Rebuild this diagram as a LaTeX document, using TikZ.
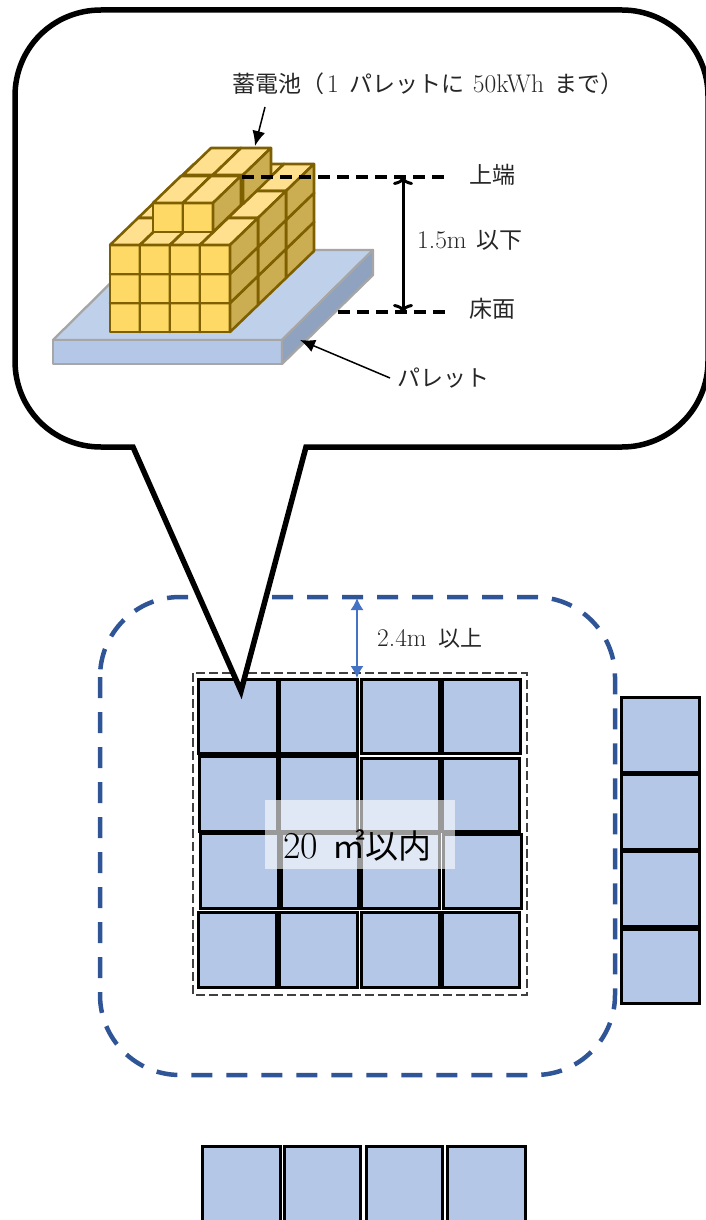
\documentclass[tikz,border=0pt]{standalone}
\usepackage{fontspec}
\usetikzlibrary{arrows.meta}
\newfontfamily\cjk{Noto Sans CJK JP}
\definecolor{tileblue}{HTML}{B4C7E7}
\definecolor{dashblue}{HTML}{2F5597}
\definecolor{arrowblue}{HTML}{4472C4}
\definecolor{boxfront}{HTML}{FFD966}
\definecolor{boxtop}{HTML}{FFE08F}
\definecolor{boxside}{HTML}{CCAE52}
\definecolor{boxline}{HTML}{7F6000}
\definecolor{paltop}{HTML}{BFD0EA}
\definecolor{palside}{HTML}{8FA2BF}
\definecolor{palline}{HTML}{A6A6A6}
\newcommand{\lat}[1]{{\fontsize{25.5}{26}\selectfont #1}}
\tikzset{
  tilebox/.style={fill=tileblue,draw=black,line width=3pt},
  cubeface/.style={draw=boxline,line width=2.6pt,line join=round},
  palface/.style={draw=palline,line width=2.3pt,line join=round},
  textlabel/.style={inner sep=0pt,text=black!85,font=\fontsize{23}{26}\selectfont\cjk},
  levelline/.style={draw=black,line width=3.2pt,dash pattern=on 12pt off 7pt},
  pointer/.style={-{Latex[length=15pt,width=13pt]},line width=1.5pt,black},
}
\newcommand{\tilerect}[4]{\draw[tilebox] (#1,#2) rectangle (#3,#4);}
\newcommand{\blockcube}[2]{%
  \fill[boxfront,cubeface] (#1,#2) rectangle ({#1+30},{#2+29});
  \fill[boxtop,cubeface] (#1,#2) -- ({#1+28},{#2-27}) -- ({#1+58},{#2-27}) -- ({#1+30},#2) -- cycle;
  \fill[boxside,cubeface] ({#1+30},#2) -- ({#1+58},{#2-27}) -- ({#1+58},{#2+2}) -- ({#1+30},{#2+29}) -- cycle;
}
\begin{document}
\begin{tikzpicture}[x=1pt,y=-1pt]
\useasboundingbox (0,0) rectangle (706,1220);
\begin{scope}
\clip (0,0) rectangle (706,1220);
% zone
\draw[dashblue,line width=4.5pt,dash pattern=on 21pt off 14pt,rounded corners=80pt] (100,597) rectangle (615,1075);
\draw[black!75,line width=1.2pt,dash pattern=on 9pt off 4pt] (193,673) rectangle (527,995);
% main grid
\tilerect{198}{679}{277}{753}\tilerect{279}{679}{357}{753}\tilerect{361}{679}{439}{753}\tilerect{442}{679}{520}{753}
\tilerect{199}{756}{277}{831}\tilerect{279}{756}{357}{831}\tilerect{361}{758}{439}{831}\tilerect{442}{758}{519}{831}
\tilerect{200}{833}{278}{908}\tilerect{281}{833}{358}{908}\tilerect{361}{833}{439}{908}\tilerect{443}{834}{521}{908}
\tilerect{198}{912}{276}{987}\tilerect{279}{912}{357}{987}\tilerect{361}{912}{439}{987}\tilerect{442}{912}{519}{987}
% right column
\tilerect{621}{697}{699}{772}\tilerect{621}{774}{699}{849}\tilerect{621}{851}{699}{926}\tilerect{621}{929}{699}{1003}
% bottom row
\tilerect{202}{1146}{280}{1240}\tilerect{284}{1146}{360}{1240}\tilerect{366}{1146}{442}{1240}\tilerect{447}{1146}{525}{1240}
% area label
\fill[white,fill opacity=0.6] (265,800) rectangle (455,869);
\node[inner sep=0pt,anchor=west,font=\fontsize{38}{40}\selectfont] (area) at (283,845) {20\hspace{14pt}{\fontsize{33}{36}\selectfont\cjk ㎡以内}};
% clearance
\coordinate (clearTop) at (357,598);
\coordinate (clearBot) at (357,678);
\draw[arrowblue,line width=1.6pt,{Latex[length=12pt,width=13pt]}-{Latex[length=12pt,width=13pt]}] (clearTop) -- (clearBot);
\node[textlabel,anchor=west,font=\fontsize{22}{26}\selectfont\cjk] (clearLab) at (377,638) {\lat{\rmfamily 2.4m}\hspace{12pt}以上};
% callout
\draw[black,fill=white,line width=5.5pt,miter limit=20]
  (133,447) -- (241,691) -- (306,447) -- (622,447)
  .. controls (669,447) and (708,409) .. (708,361)
  -- (708,96) .. controls (708,48) and (669,10) .. (622,10)
  -- (101,10) .. controls (53,10) and (15,48) .. (15,96)
  -- (15,361) .. controls (15,409) and (53,447) .. (101,447) -- cycle;
% pallet
\fill[paltop,palface] (53,340) -- (144,250) -- (373,250) -- (282,340) -- cycle;
\fill[tileblue,palface] (53,340) rectangle (282,364);
\fill[palside,palface] (282,340) -- (373,250) -- (373,275) -- (282,364) -- cycle;
% lower blocks
\foreach \j in {2,1,0}{
  \foreach \i in {0,1,2,3}{
    \foreach \k in {0,1,2}{
      \pgfmathsetmacro{\bx}{110+30*\i+28*\j}
      \pgfmathsetmacro{\by}{303-29*\k-27*\j}
      \blockcube{\bx}{\by}
    }
  }
}
% upper blocks
\blockcube{183}{175}\blockcube{213}{175}
\blockcube{153}{203}\blockcube{183}{203}
% level lines
\coordinate (topA) at (242,177);
\coordinate (topB) at (448,177);
\coordinate (floorA) at (338,312);
\coordinate (floorB) at (448,312);
\draw[levelline] (topA) -- (topB);
\draw[levelline] (floorA) -- (floorB);
\coordinate (dimTop) at (403,177);
\coordinate (dimBot) at (403,312);
\draw[black,line width=3pt,{To[length=8pt,width=20pt]}-{To[length=8pt,width=20pt]}] (dimTop) -- (dimBot);
% labels
\node[textlabel,anchor=west] (topLab) at (469,175) {上端};
\node[textlabel,anchor=west] (floorLab) at (469,309) {床面};
\node[textlabel,anchor=west] (dimLab) at (417,240) {\lat{\rmfamily 1.5m}\hspace{10pt}以下};
\node[textlabel,anchor=west] (palLab) at (397,378) {パレット};
\node[textlabel,anchor=west] (batLab) at (232,84) {蓄電池（\hspace{3pt}\lat{\rmfamily 1}\hspace{11pt}パレットに\hspace{8pt}\lat{\rmfamily 50kWh}\hspace{10pt}まで）};
\coordinate (batFrom) at (265,107);
\coordinate (batTo) at (255,146);
\draw[pointer] (batFrom) -- (batTo);
\coordinate (palTo) at (300,340);
\draw[pointer] (palLab.west) ++(-7,0) coordinate (palFrom) -- (palTo);
\end{scope}
\end{tikzpicture}
\end{document}
